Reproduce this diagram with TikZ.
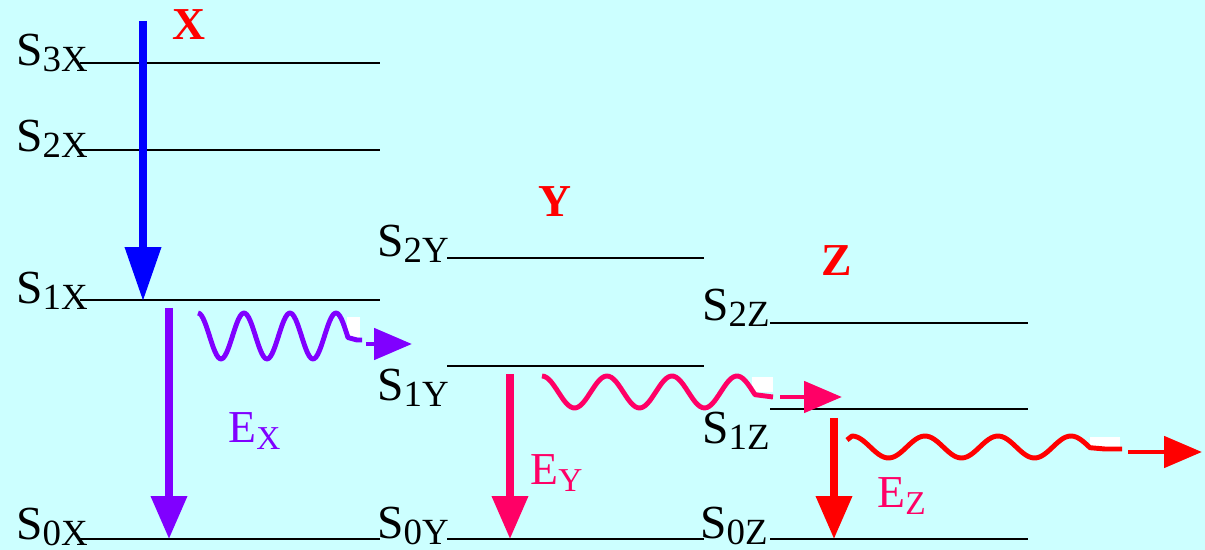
\documentclass[tikz,border=0pt]{standalone}
\usepackage{fontspec}
\setmainfont{Liberation Serif}
\usepackage{tikz}
\usetikzlibrary{arrows.meta}

\definecolor{bgcyan}{RGB}{204,255,255}
\definecolor{xblue}{RGB}{0,0,255}
\definecolor{xpurple}{RGB}{128,0,255}
\definecolor{ypink}{RGB}{255,0,102}
\definecolor{zred}{RGB}{255,0,0}

\newcommand{\lev}[1]{S\raisebox{-3.4pt}{\fontsize{21}{21}\selectfont #1}}
\newcommand{\en}[1]{E\raisebox{-3.6pt}{\fontsize{19}{19}\selectfont #1}}

\begin{document}
\begin{tikzpicture}[x=0.02cm, y=-0.02cm,
    stateline/.style={line width=1.5pt},
    lab/.style={inner sep=0pt, anchor=base west, font=\fontsize{27}{27}\selectfont},
    mol/.style={inner sep=0pt, anchor=base, text=zred, font=\fontsize{26}{26}\selectfont\bfseries},
    elab/.style={inner sep=0pt, anchor=base west, font=\fontsize{26}{26}\selectfont},
    drop/.style={line width=4pt, -{Triangle[length=0.86cm, width=0.7cm]}},
    photon/.style={line width=2.8pt, line join=round},
    emit/.style={line width=2.8pt, -{Triangle[length=0.76cm, width=0.62cm]}}]

    \fill[bgcyan] (0,0) rectangle (1205,550);
    \useasboundingbox (0,0) rectangle (1205,550);

    % molecule X
    \draw[stateline] (80,63) -- (380,63);
    \draw[stateline] (80,150) -- (380,150);
    \draw[stateline] (80,300) -- (380,300);
    \draw[stateline] (80,539) -- (380,539);
    \node[lab] (s3x) at (16,66) {\lev{3X}};
    \node[lab] (s2x) at (16,152) {\lev{2X}};
    \node[lab] (s1x) at (16,304) {\lev{1X}};
    \node[lab] (s0x) at (16,540) {\lev{0X}};
    \node[mol] (mx) at (189,40) {X};

    % molecule Y
    \draw[stateline] (447,258) -- (704,258);
    \draw[stateline] (447,366) -- (704,366);
    \draw[stateline] (447,539) -- (704,539);
    \node[lab] (s2y) at (377,257) {\lev{2Y}};
    \node[lab] (s1y) at (377,401) {\lev{1Y}};
    \node[lab] (s0y) at (377,539) {\lev{0Y}};
    \node[mol] (my) at (555,217) {Y};

    % molecule Z
    \draw[stateline] (770,323) -- (1028,323);
    \draw[stateline] (770,409) -- (1028,409);
    \draw[stateline] (770,539) -- (1028,539);
    \node[lab] (s2z) at (702,321) {\lev{2Z}};
    \node[lab] (s1z) at (702,444) {\lev{1Z}};
    \node[lab] (s0z) at (700,539) {\lev{0Z}};
    \node[mol] (mz) at (837,276) {Z};

    % excitation and decays
    \coordinate (xtop) at (143,21);
    \coordinate (xhit) at (143,301);
    \coordinate (xup) at (169,308);
    \coordinate (xdown) at (169,539);
    \coordinate (yup) at (510,374);
    \coordinate (ydown) at (510,539);
    \coordinate (zup) at (834,418);
    \coordinate (zdown) at (834,539);
    \draw[drop, xblue, -{Triangle[length=1.08cm, width=0.7cm]}] (xtop) -- (xhit);
    \draw[drop, xpurple] (xup) -- (xdown);
    \draw[drop, ypink] (yup) -- (ydown);
    \draw[drop, zred] (zup) -- (zdown);
    \node[elab, text=xpurple] (ex) at (228,443) {\en{X}};
    \node[elab, text=ypink] (ey) at (530,485) {\en{Y}};
    \node[elab, text=ypink] (ez) at (877,508) {\en{Z}};

    % emitted light
    \fill[white] (347,317) rectangle (360,337);
    \fill[white] (752,377) rectangle (773,392);
    \fill[white] (1090,437) rectangle (1120,447);

    \coordinate (wx) at (362,340);
    \coordinate (dx) at (366,344);
    \coordinate (tx) at (412,344);
    \draw[photon, xpurple] plot[domain=198:348, samples=90]
        (\x, {336-23*cos(360/46*(\x-198))}) -- (357,340) -- (wx);
    \draw[emit, xpurple] (dx) -- (tx);

    \coordinate (wy) at (773,397);
    \coordinate (dy) at (780,397);
    \coordinate (ty) at (842,397);
    \draw[photon, ypink] plot[domain=542:755, samples=90]
        (\x, {392-16*cos(360/65*(\x-542))}) -- (wy);
    \draw[emit, ypink] (dy) -- (ty);

    \coordinate (wz) at (1122,449);
    \coordinate (dz) at (1128,452);
    \coordinate (tz) at (1202,452);
    \draw[photon, zred] (847,440) -- plot[domain=852:1090, samples=90]
        (\x, {447-11*cos(360/73*(\x-852))}) -- (1105,449) -- (wz);
    \draw[emit, zred] (dz) -- (tz);
\end{tikzpicture}
\end{document}
